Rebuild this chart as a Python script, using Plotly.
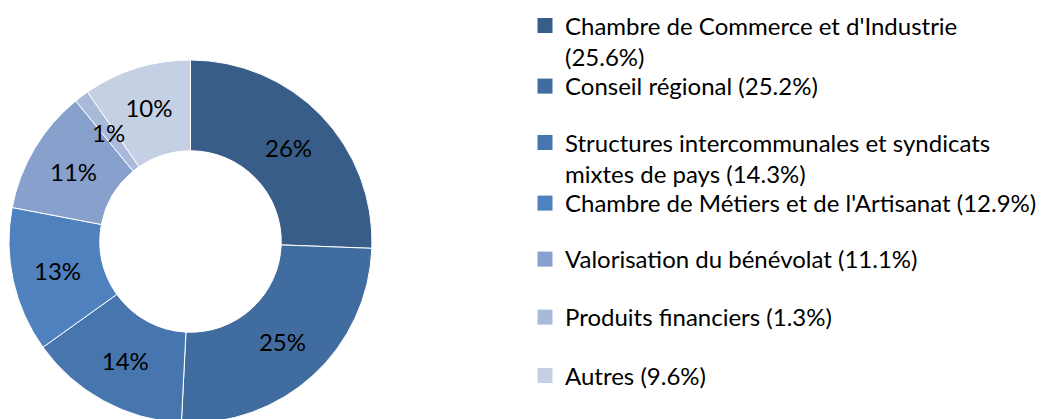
import math
import plotly.graph_objects as go

labels = [
    "Chambre de Commerce et d'Industrie",
    "Conseil régional",
    "Structures intercommunales et syndicats mixtes de pays",
    "Chambre de Métiers et de l'Artisanat",
    "Valorisation du bénévolat",
    "Produits financiers",
    "Autres",
]
values = [25.6, 25.2, 14.3, 12.9, 11.1, 1.3, 9.6]
colors = ["#375D88", "#416C9F", "#4776AE", "#4E81BE", "#87A1CC", "#A9B9DA", "#C5D0E4"]

legend_names = [f"{l} ({v}%)" for l, v in zip(labels, values)]
legend_names[0] = legend_names[0].replace(" (", "<br>(")
legend_names[2] = legend_names[2].replace("syndicats ", "syndicats<br>")

W, H = 1059, 419
OFF = 8  # page body margin offset
FONT = "Lato"
FS_PIE = 24
FS_LEG = 24

# pie geometry in screen pixels, converted to figure pixels
cx, cy, r = 190.5 - OFF, 241.5 - OFF, 181.5
hole = 0.5

small = [v < 3 for v in values]
fig = go.Figure()
fig.add_trace(go.Pie(
    labels=labels,
    values=values,
    sort=False,
    direction="clockwise",
    rotation=0,
    hole=hole,
    marker=dict(colors=colors, line=dict(color="white", width=1)),
    texttemplate="%{percent:.0%}",
    textposition=["none" if s else "inside" for s in small],
    insidetextorientation="horizontal",
    textfont=dict(family=FONT, size=FS_PIE, color="black"),
    showlegend=False,
    hoverinfo="label+percent",
    domain=dict(x=[(cx - r) / W, (cx + r) / W],
                y=[(H - cy - r) / H, (H - cy + r) / H]),
))

# label for tiny slice, placed at slice mid-angle in ring middle
total = sum(values)
cum = 0.0
rr = r * (1 + hole) / 2
for v, s in zip(values, small):
    if s:
        ang = 2 * math.pi * (cum + v / 2) / total
        px = cx + rr * math.sin(ang)
        py = cy - rr * math.cos(ang)
        fig.add_annotation(
            x=px / W, y=1 - py / H, xref="paper", yref="paper",
            xanchor="center", yanchor="middle",
            text=f"{round(v / total * 100)}%", showarrow=False,
            font=dict(family=FONT, size=FS_PIE, color="black"),
        )
    cum += v

# legend entries, one legend each for Excel-like fixed spacing
line_centers = [26.5, 87, 143.5, 204, 260, 318, 376.5]
layout_legends = {}
for i, (name, col, yc) in enumerate(zip(legend_names, colors, line_centers)):
    key = "legend" if i == 0 else f"legend{i+1}"
    fig.add_trace(go.Scatter(
        x=[None], y=[None], mode="markers",
        marker=dict(symbol="square", size=15, color=col),
        name=name, legend=key, showlegend=True, hoverinfo="skip",
    ))
    layout_legends[key] = dict(
        x=(566 - OFF - 41) / W, y=1 - (yc - 31) / H,
        xanchor="left", yanchor="top",
        bgcolor="rgba(0,0,0,0)", borderwidth=0,
        font=dict(family=FONT, size=FS_LEG, color="black"),
        valign="top",
    )

fig.update_layout(
    width=W, height=H,
    margin=dict(l=0, r=0, t=0, b=0, autoexpand=False),
    paper_bgcolor="white", plot_bgcolor="white",
    xaxis=dict(visible=False), yaxis=dict(visible=False),
    **layout_legends,
)

fig.write_html("out.html")
